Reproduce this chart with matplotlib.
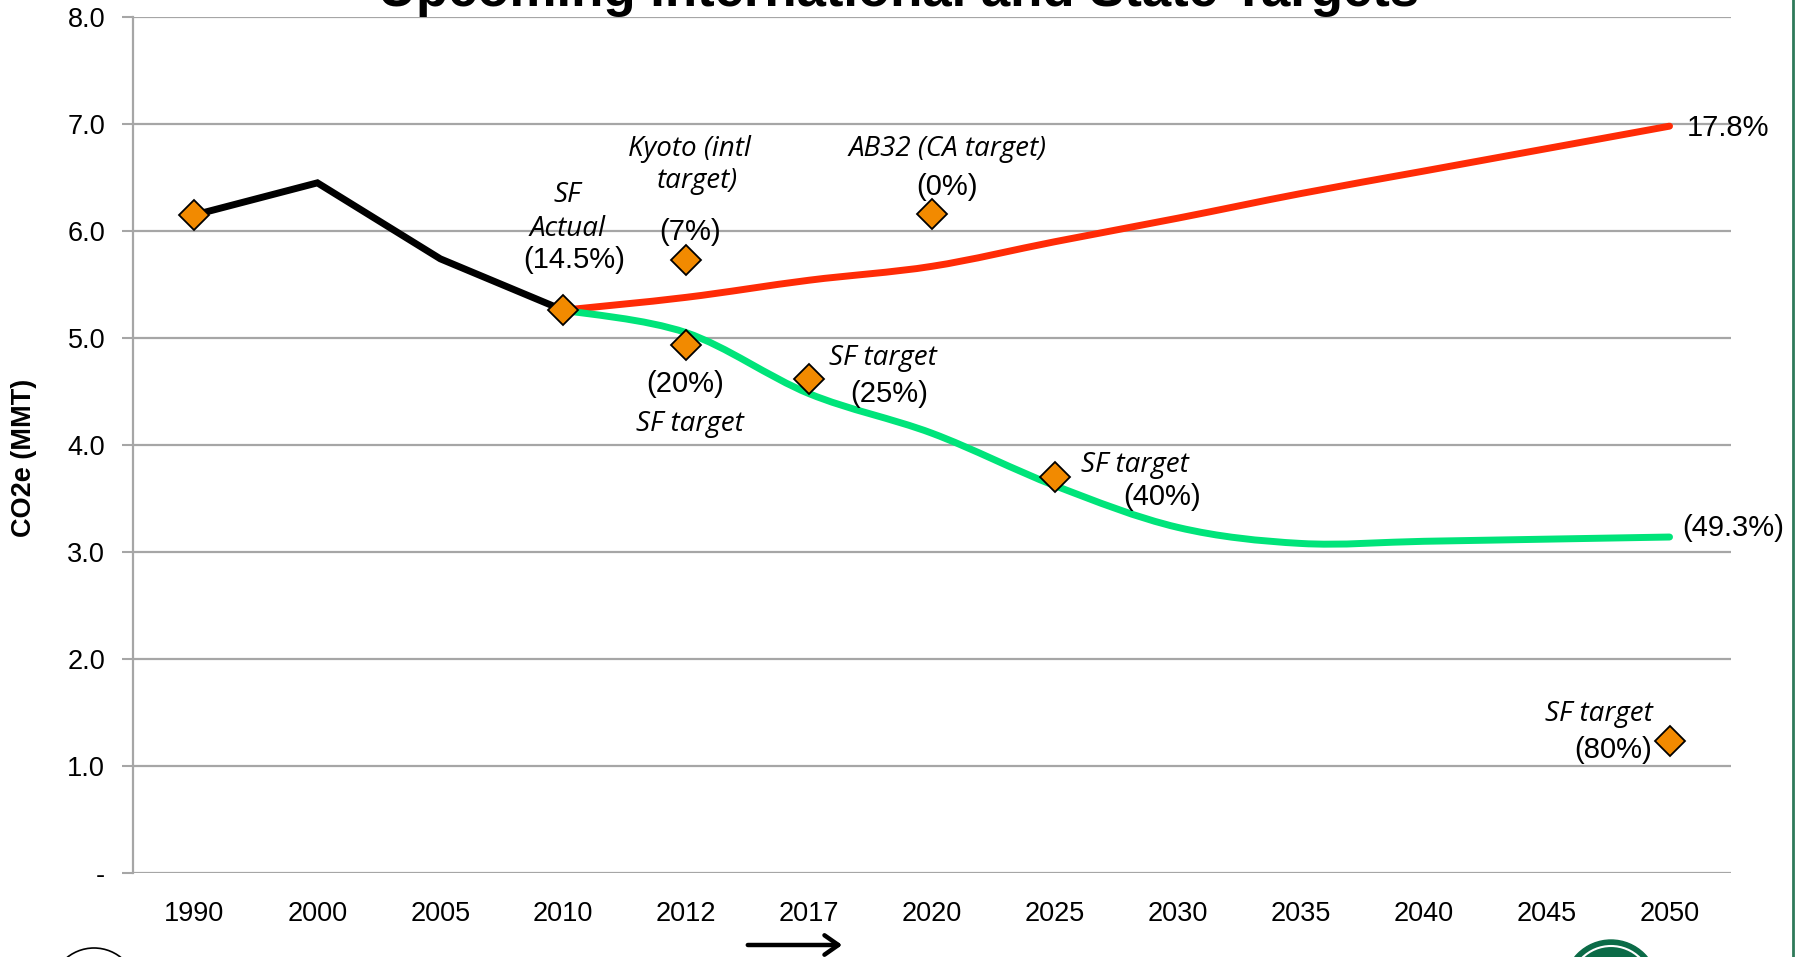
import matplotlib
matplotlib.use("Agg")
import matplotlib.pyplot as plt
from matplotlib.path import Path
from matplotlib.patches import PathPatch, Ellipse, FancyArrowPatch
import numpy as np

# ---------------- data ----------------
years = ["1990", "2000", "2005", "2010", "2012", "2017", "2020",
         "2025", "2030", "2035", "2040", "2045", "2050"]
actual_years = ["1990", "2000", "2005", "2010"]
actual_vals = [6.15, 6.45, 5.74, 5.26]
bau_years = ["2010", "2012", "2017", "2020", "2025", "2030", "2035",
             "2040", "2045", "2050"]
bau_vals = [5.26, 5.38, 5.54, 5.67, 5.90, 6.12, 6.35, 6.56, 6.77, 6.98]
plan_years = bau_years
plan_vals = [5.26, 5.05, 4.48, 4.11, 3.62, 3.23, 3.08, 3.10, 3.12, 3.14]
target_years = ["1990", "2010", "2012", "2020", "2012", "2017", "2025", "2050"]
target_vals = [6.15, 5.26, 5.73, 6.16, 4.93, 4.62, 3.70, 1.23]
yticks = [0, 1, 2, 3, 4, 5, 6, 7, 8]
ytick_labels = ["-", "1.0", "2.0", "3.0", "4.0", "5.0", "6.0", "7.0", "8.0"]
title = "Upcoming International and State Targets"
ylabel = "CO2e (MMT)"

idx = {y: i for i, y in enumerate(years)}

RED = "#FF2B06"
GREEN = "#00E47A"
ORANGE = "#F28A00"
GRID = "#A6A6A6"
SANS = ["Liberation Sans", "DejaVu Sans"]
ITAL = ["Open Sans", "DejaVu Sans"]

W, H = 1798, 957
fig = plt.figure(figsize=(W / 100, H / 100), dpi=100)
ax = fig.add_axes([133 / W, 1 - 873 / H, (1731 - 133) / W, (873 - 17) / H])

def smooth_path(xs, ys):
    pts = np.column_stack([xs, ys]).astype(float)
    n = len(pts)
    verts = [pts[0]]
    codes = [Path.MOVETO]
    for i in range(n - 1):
        p0 = pts[i - 1] if i > 0 else pts[i]
        p1 = pts[i]
        p2 = pts[i + 1]
        p3 = pts[i + 2] if i + 2 < n else pts[i + 1]
        c1 = p1 + (p2 - p0) / 6.0
        c2 = p2 - (p3 - p1) / 6.0
        verts += [c1, c2, p2]
        codes += [Path.CURVE4] * 3
    return Path(verts, codes)

# grid
for t in yticks:
    ax.axhline(t, color=GRID, lw=1.6, zorder=0)

LW = 5.0
# lines
ax.plot([idx[y] for y in actual_years], actual_vals, color="black", lw=LW,
        solid_joinstyle="miter", zorder=3)
ax.add_patch(PathPatch(smooth_path([idx[y] for y in bau_years], bau_vals),
                       facecolor="none", edgecolor=RED, lw=LW,
                       capstyle="round", zorder=3))
ax.add_patch(PathPatch(smooth_path([idx[y] for y in plan_years], plan_vals),
                       facecolor="none", edgecolor=GREEN, lw=LW,
                       capstyle="round", zorder=3))

# markers
ax.plot([idx[y] for y in target_years], target_vals, linestyle="none",
        marker="D", markersize=15.5, markerfacecolor=ORANGE,
        markeredgecolor="black", markeredgewidth=1.3, zorder=5)

ax.set_xlim(-0.5, len(years) - 0.5)
ax.set_ylim(0, 8)
ax.set_xticks(range(len(years)))
ax.set_xticklabels(years, fontsize=19.5, family=SANS)
ax.set_yticks(yticks)
ax.set_yticklabels(ytick_labels, fontsize=19.5, family=SANS)
ax.tick_params(axis="x", length=0, pad=20)
ax.tick_params(axis="y", length=8, width=1.5, color=GRID, pad=12)
for s in ["top", "right", "bottom"]:
    ax.spines[s].set_visible(False)
ax.spines["left"].set_color(GRID)
ax.spines["left"].set_linewidth(1.6)
ax.set_ylabel(ylabel, fontsize=19.5, fontweight="bold", family=SANS)
ax.yaxis.set_label_coords(-0.060, 0.485)

def it(x, y, s, ha="center"):
    ax.text(x, y, s, fontsize=20, style="italic", family=ITAL, ha=ha, va="center")

def nm(x, y, s, ha="center"):
    ax.text(x, y, s, fontsize=21, family=SANS, ha=ha, va="center")

it(3.035, 6.34, "SF")
it(3.035, 6.02, "Actual")
nm(3.09, 5.73, "(14.5%)")
it(4.03, 6.77, "Kyoto (intl")
it(4.09, 6.47, "target)")
nm(4.03, 5.99, "(7%)")
it(6.125, 6.77, "AB32 (CA target)")
nm(6.125, 6.41, "(0%)")
nm(3.99, 4.57, "(20%)")
it(4.03, 4.20, "SF target")
it(5.60, 4.81, "SF target")
nm(5.65, 4.48, "(25%)")
it(7.65, 3.81, "SF target")
nm(7.87, 3.51, "(40%)")
it(11.86, 1.49, "SF target", ha="right")
nm(11.86, 1.15, "(80%)", ha="right")
nm(12.14, 6.96, "17.8%", ha="left")
nm(12.10, 3.22, "(49.3%)", ha="left")

# title (cut off at the top of the slide)
fig.text(899 / W, 1 - 6 / H, title, fontsize=38, fontweight="bold",
         family=SANS, ha="center", va="baseline")

# right border of slide
fig.add_artist(plt.Line2D([1793 / W, 1793 / W], [0, 1], color="#2F7A5A",
                          lw=2, transform=fig.transFigure))

# arrow at bottom
fig.add_artist(FancyArrowPatch((745 / W, 1 - 945 / H), (845 / W, 1 - 945 / H),
                               transform=fig.transFigure,
                               arrowstyle="->,head_length=10,head_width=7",
                               color="black", lw=3.2))

# logos (partially visible at the bottom edge)
fig.add_artist(Ellipse((94 / W, 1 - 991 / H), 86 / W, 86 / H,
                       transform=fig.transFigure, facecolor="none",
                       edgecolor="black", lw=1.2))
fig.add_artist(Ellipse((1611 / W, 1 - 987 / H), 94 / W, 94 / H,
                       transform=fig.transFigure, facecolor="#0B6B47",
                       edgecolor="#0B6B47", lw=1))
fig.add_artist(Ellipse((1611 / W, 1 - 987 / H), 82 / W, 82 / H,
                       transform=fig.transFigure, facecolor="none",
                       edgecolor="white", lw=1.5))

fig.savefig("out.png", dpi=100)
